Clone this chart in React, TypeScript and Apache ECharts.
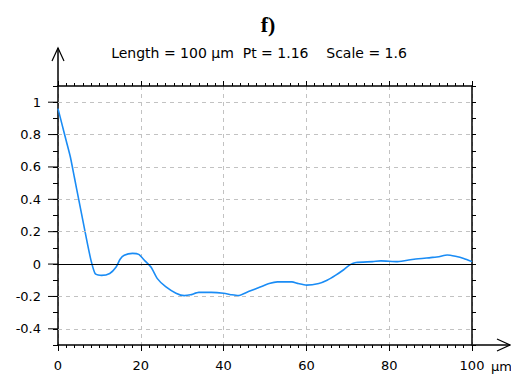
import React, { useEffect, useRef } from "react";
import * as echarts from "echarts";

const xs = [0, 1, 2, 3, 4, 5, 6, 7, 8, 9, 10.5, 12.5, 14, 15, 16, 18, 19.5, 21, 22.5, 24, 26, 28.5, 30.5, 32, 34, 37, 40, 42, 43.5, 46, 49, 51, 53, 56.5, 58, 60, 63, 65, 67, 69, 70.5, 72, 76, 78, 82, 86, 90, 92, 94, 96, 98, 100];
const ys = [0.96, 0.86, 0.76, 0.66, 0.53, 0.4, 0.27, 0.14, 0.02, -0.06, -0.07, -0.058, -0.02, 0.03, 0.055, 0.066, 0.06, 0.02, -0.02, -0.09, -0.14, -0.18, -0.195, -0.19, -0.175, -0.175, -0.18, -0.19, -0.195, -0.17, -0.14, -0.12, -0.11, -0.11, -0.12, -0.13, -0.12, -0.1, -0.07, -0.035, -0.005, 0.01, 0.015, 0.02, 0.015, 0.03, 0.04, 0.045, 0.056, 0.048, 0.035, 0.015];

const yGridValues = [-0.4, -0.2, 0.2, 0.4, 0.6, 0.8, 1];
const yLabelValues = [-0.4, -0.2, 0, 0.2, 0.4, 0.6, 0.8, 1];

const title = "f)";
const subtitle = "Length = 100 µm  Pt = 1.16    Scale = 1.6";
const xUnit = "µm";

const FONT = "'DejaVu Sans', Verdana, sans-serif";
const GL = 58, GR = 472, GT = 86, GB = 345;

export default function App() {
  const ref = useRef<HTMLDivElement>(null);
  useEffect(() => {
    if (!ref.current) return;
    const chart = echarts.init(ref.current, null, { renderer: "svg" });
    const data = xs.map((x, i) => [x, ys[i]]);
    const gridStyle = { color: "#c2c2c2", type: [4, 4] as any, width: 1 };
    const axisLine = { show: true, onZero: false, lineStyle: { color: "#000", width: 1.5 } };
    const yFmt = (v: number) => {
      const t = Math.round(v * 10);
      return t % 2 === 0 ? String(t / 10) : "";
    };
    const baseGraphic: any[] = [
      { type: "text", x: 268, y: 24, style: { text: title, font: "bold 22px 'Liberation Serif', 'Times New Roman', serif", fill: "#000", textAlign: "center", textVerticalAlign: "middle" } },
      { type: "text", x: 259, y: 53, style: { text: subtitle, font: `14px ${FONT}`, fill: "#000", textAlign: "center", textVerticalAlign: "middle" } },
      { type: "line", shape: { x1: GL, y1: GT, x2: GL, y2: 48 }, style: { stroke: "#000", lineWidth: 1.5 } },
      { type: "polyline", shape: { points: [[52, 61], [GL, 48], [64, 61]] }, style: { stroke: "#000", lineWidth: 1.2, fill: "none" } },
      { type: "line", shape: { x1: GR, y1: GB, x2: 510, y2: GB }, style: { stroke: "#000", lineWidth: 1.5 } },
      { type: "polyline", shape: { points: [[497, 339], [510, GB], [497, 351]] }, style: { stroke: "#000", lineWidth: 1.2, fill: "none" } },
      { type: "text", x: 491, y: 366, style: { text: xUnit, font: `13px ${FONT}`, fill: "#000", textVerticalAlign: "middle" } },
    ];
    chart.setOption({
      animation: false,
      backgroundColor: "#fff",
      grid: { left: GL, right: 511 - GR, top: GT, bottom: 374 - GB, containLabel: false },
      xAxis: [
        {
          type: "value", position: "bottom", min: 0, max: 100, interval: 20,
          axisLine, axisTick: { show: true, length: 6, lineStyle: { color: "#000" } },
          minorTick: { show: true, splitNumber: 10, length: 3, lineStyle: { color: "#000" } },
          splitLine: { show: true, lineStyle: gridStyle },
          axisLabel: { margin: 14, color: "#000", fontFamily: FONT, fontSize: 13 },
        },
        {
          type: "value", position: "top", min: 0, max: 100, interval: 20,
          axisLine, axisTick: { show: true, length: 5, lineStyle: { color: "#000" } },
          minorTick: { show: true, splitNumber: 10, length: 3, lineStyle: { color: "#000" } },
          splitLine: { show: false }, axisLabel: { show: false },
        },
      ],
      yAxis: [
        {
          type: "value", position: "left", min: -0.5, max: 1.1, interval: 0.1,
          axisLine, axisTick: { show: true, length: 5, lineStyle: { color: "#000" } },
          splitLine: { show: false },
          axisLabel: { margin: 17, color: "#000", fontFamily: FONT, fontSize: 13, formatter: yFmt },
        },
        {
          type: "value", position: "right", min: -0.5, max: 1.1, interval: 0.1,
          axisLine, axisTick: { show: true, length: 4, lineStyle: { color: "#000" } },
          splitLine: { show: false }, axisLabel: { show: false },
        },
      ],
      series: [
        {
          type: "line", data, xAxisIndex: 0, yAxisIndex: 0, showSymbol: false, smooth: 0.2,
          lineStyle: { color: "#1a8cf5", width: 1.6 },
          markLine: {
            silent: true, symbol: ["none", "none"], label: { show: false }, animation: false,
            data: [
              ...yGridValues.map((v) => ({ yAxis: v, lineStyle: gridStyle })),
              { yAxis: 0, lineStyle: { color: "#000", type: "solid", width: 1.2 } },
            ],
          },
          z: 3,
        },
      ],
      graphic: baseGraphic,
    });
    const ticks = yLabelValues.map((v) => {
      const py = chart.convertToPixel({ yAxisIndex: 0 }, v) as number;
      return { type: "line", shape: { x1: GL - 10, y1: py, x2: GL, y2: py }, style: { stroke: "#000", lineWidth: 1 } };
    });
    chart.setOption({ graphic: [...baseGraphic, ...ticks] });
    return () => chart.dispose();
  }, []);
  return <div ref={ref} style={{ position: "fixed", left: 0, top: 0, width: 511, height: 374 }} />;
}
